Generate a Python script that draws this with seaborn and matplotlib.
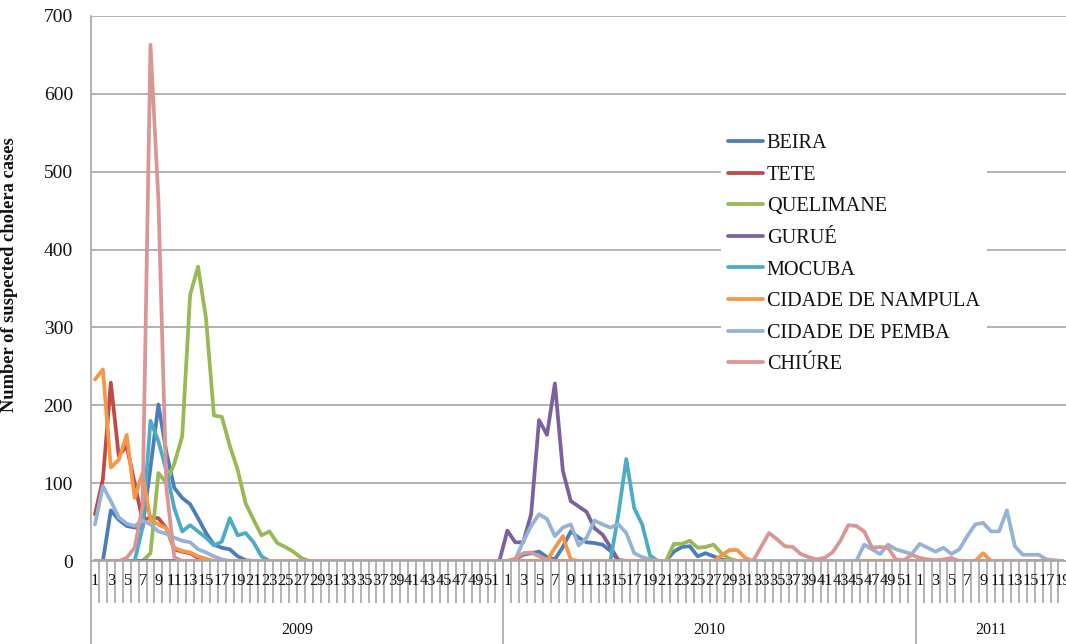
import matplotlib
matplotlib.use("Agg")
import matplotlib.pyplot as plt
import pandas as pd
import seaborn as sns

# ---------------------------------------------------------------- data
cities = ["BEIRA", "TETE", "QUELIMANE", "GURUÉ", "MOCUBA",
          "CIDADE DE NAMPULA", "CIDADE DE PEMBA", "CHIÚRE"]
colors = ["#4A7EBB", "#BE4B48", "#98B954", "#7D60A0", "#4BACC6",
          "#F79646", "#95B3D7", "#D99694"]

years = ["2009", "2010", "2011"]
weeks_per_year = [52, 52, 19]

# weekly suspected cases, listed from week 1; weeks not listed had no cases
beira_2009 = [0, 0, 65, 53, 45, 43, 43, 120, 201, 140, 94, 81, 73, 55, 36,
              21, 17, 15, 6, 1]
beira_2010 = [0, 2, 8, 10, 12, 5, 2, 18, 38, 30, 24, 23, 21, 13, 1, 0, 0, 0,
              0, 0, 0, 12, 18, 19, 6, 10, 6, 2]
beira_2011 = []

tete_2009 = [60, 105, 229, 135, 148, 100, 52, 56, 55, 42, 15, 12, 10, 4]
tete_2010 = []
tete_2011 = []

quelimane_2009 = [0, 0, 0, 0, 0, 0, 0, 10, 113, 100, 125, 160, 342, 378, 312,
                  187, 185, 148, 117, 74, 53, 33, 38, 23, 18, 12, 4]
quelimane_2010 = [0] * 21 + [22, 22, 26, 17, 18, 21, 10, 3]
quelimane_2011 = []

gurue_2009 = []
gurue_2010 = [39, 24, 24, 60, 181, 162, 228, 116, 77, 70, 63, 42, 34, 18, 1]
gurue_2011 = []

mocuba_2009 = [0, 0, 0, 0, 0, 0, 43, 180, 154, 116, 68, 38, 46, 38, 30, 20,
               25, 55, 33, 36, 24, 6]
mocuba_2010 = [0] * 14 + [60, 131, 68, 47, 7]
mocuba_2011 = []

nampula_2009 = [233, 246, 120, 130, 162, 81, 113, 52, 47, 42, 17, 13, 11, 6, 3]
nampula_2010 = [0, 0, 0, 0, 0, 0, 17, 32, 2] + [0] * 17 + [0, 7, 14, 14, 4]
nampula_2011 = [0, 0, 0, 0, 0, 0, 0, 0, 10]

pemba_2009 = [47, 96, 77, 56, 48, 45, 52, 47, 38, 35, 30, 26, 24, 15, 11, 6, 2]
pemba_2010 = ([0, 2, 25, 45, 60, 54, 32, 43, 47, 20, 30, 52, 47, 43, 47, 36,
               10, 5, 2] + [0] * 26 + [21, 15, 9, 21, 15, 12, 9])
pemba_2011 = [22, 17, 12, 17, 9, 15, 32, 47, 49, 38, 38, 65, 19, 8, 8, 8, 2, 1]

chiure_2009 = [0, 0, 0, 0, 4, 17, 70, 663, 464, 95, 5]
chiure_2010 = ([0, 3, 10, 11, 6, 2] + [0] * 26 +
               [18, 36, 28, 19, 18, 9, 5, 2, 4, 11, 26, 46, 45, 38, 17, 18,
                17, 2, 1, 8])
chiure_2011 = [4, 2, 1, 2, 4]

series = {
    "BEIRA": [beira_2009, beira_2010, beira_2011],
    "TETE": [tete_2009, tete_2010, tete_2011],
    "QUELIMANE": [quelimane_2009, quelimane_2010, quelimane_2011],
    "GURUÉ": [gurue_2009, gurue_2010, gurue_2011],
    "MOCUBA": [mocuba_2009, mocuba_2010, mocuba_2011],
    "CIDADE DE NAMPULA": [nampula_2009, nampula_2010, nampula_2011],
    "CIDADE DE PEMBA": [pemba_2009, pemba_2010, pemba_2011],
    "CHIÚRE": [chiure_2009, chiure_2010, chiure_2011],
}


def year_weeks(values, n):
    """Pad a year's listed weeks with zero-case weeks up to n weeks."""
    return list(values) + [0] * (n - len(values))


rows = []
for city in cities:
    idx = 0
    for vals, n in zip(series[city], weeks_per_year):
        for v in year_weeks(vals, n):
            rows.append({"week": idx, "cases": v, "city": city})
            idx += 1
df = pd.DataFrame(rows)

# ---------------------------------------------------------------- style
sns.set_style("white")
plt.rcParams["font.family"] = ["Liberation Serif", "DejaVu Serif"]
grid_col = "#A6A6A6"
text_col = "#111111"

W, H = 1066, 644
fig = plt.figure(figsize=(W / 100, H / 100), dpi=100)
ax_left, ax_bottom, ax_h = 91, 83, 545
ax = fig.add_axes([ax_left / W, ax_bottom / H, 1 - ax_left / W, ax_h / H])

sns.lineplot(data=df, x="week", y="cases", hue="city", hue_order=cities,
             palette=colors, linewidth=2.7, estimator=None, ax=ax)

n_total = sum(weeks_per_year)
ax.set_xlim(-0.5, n_total - 0.55)
ax.set_ylim(0, 700)
ax.set_yticks(range(0, 701, 100))
ax.set_axisbelow(True)
ax.yaxis.grid(True, color=grid_col, linewidth=1.2)
ax.xaxis.grid(False)
for side in ("top", "right"):
    ax.spines[side].set_visible(False)
for side in ("left", "bottom"):
    ax.spines[side].set_color(grid_col)
    ax.spines[side].set_linewidth(1.2)

ax.tick_params(axis="y", length=4, width=1.2, color=grid_col, pad=9,
               labelsize=14, labelcolor=text_col)
ax.set_xticks([])
ax.set_xlabel("")
ax.set_ylabel("Number of suspected cholera cases", fontsize=13.3,
              fontweight="bold", color=text_col)
ax.yaxis.set_label_coords(-73 / (W - ax_left), 0.525)

# category axis: week ticks, week numbers and year groups
xtr = ax.get_xaxis_transform()
tick_len = 42 / ax_h
group_len = ax_bottom / ax_h
starts = [0]
for n in weeks_per_year[:-1]:
    starts.append(starts[-1] + n)

short = [k - 0.5 for k in range(1, n_total) if k not in starts]
ax.vlines(short, -tick_len, 0, transform=xtr, colors=grid_col,
          linewidth=1.2, clip_on=False)
ax.vlines([s - 0.5 for s in starts], -group_len, 0, transform=xtr,
          colors=grid_col, linewidth=1.2, clip_on=False)

for year, s, n in zip(years, starts, weeks_per_year):
    for w in range(1, n + 1, 2):
        ax.text(s + w - 1, -20 / ax_h, str(w), transform=xtr, ha="center",
                va="center", fontsize=11.8, color=text_col, clip_on=False)
    ax.text(s + (n - 1) / 2, -69 / ax_h, year, transform=xtr, ha="center",
            va="center", fontsize=11.5, color=text_col, clip_on=False)

# legend
handles, labels = ax.get_legend_handles_labels()
leg = ax.legend(handles, labels, loc="upper left",
                bbox_to_anchor=(721 / W, 1 - 127 / H),
                bbox_transform=fig.transFigure, frameon=True,
                facecolor="white", edgecolor="none", framealpha=1,
                fancybox=False, fontsize=14.6, handlelength=1.7,
                handletextpad=0.2, labelspacing=0.61, borderpad=0.35,
                borderaxespad=0)
for t in leg.get_texts():
    t.set_color(text_col)

fig.savefig("out.png", dpi=100)
